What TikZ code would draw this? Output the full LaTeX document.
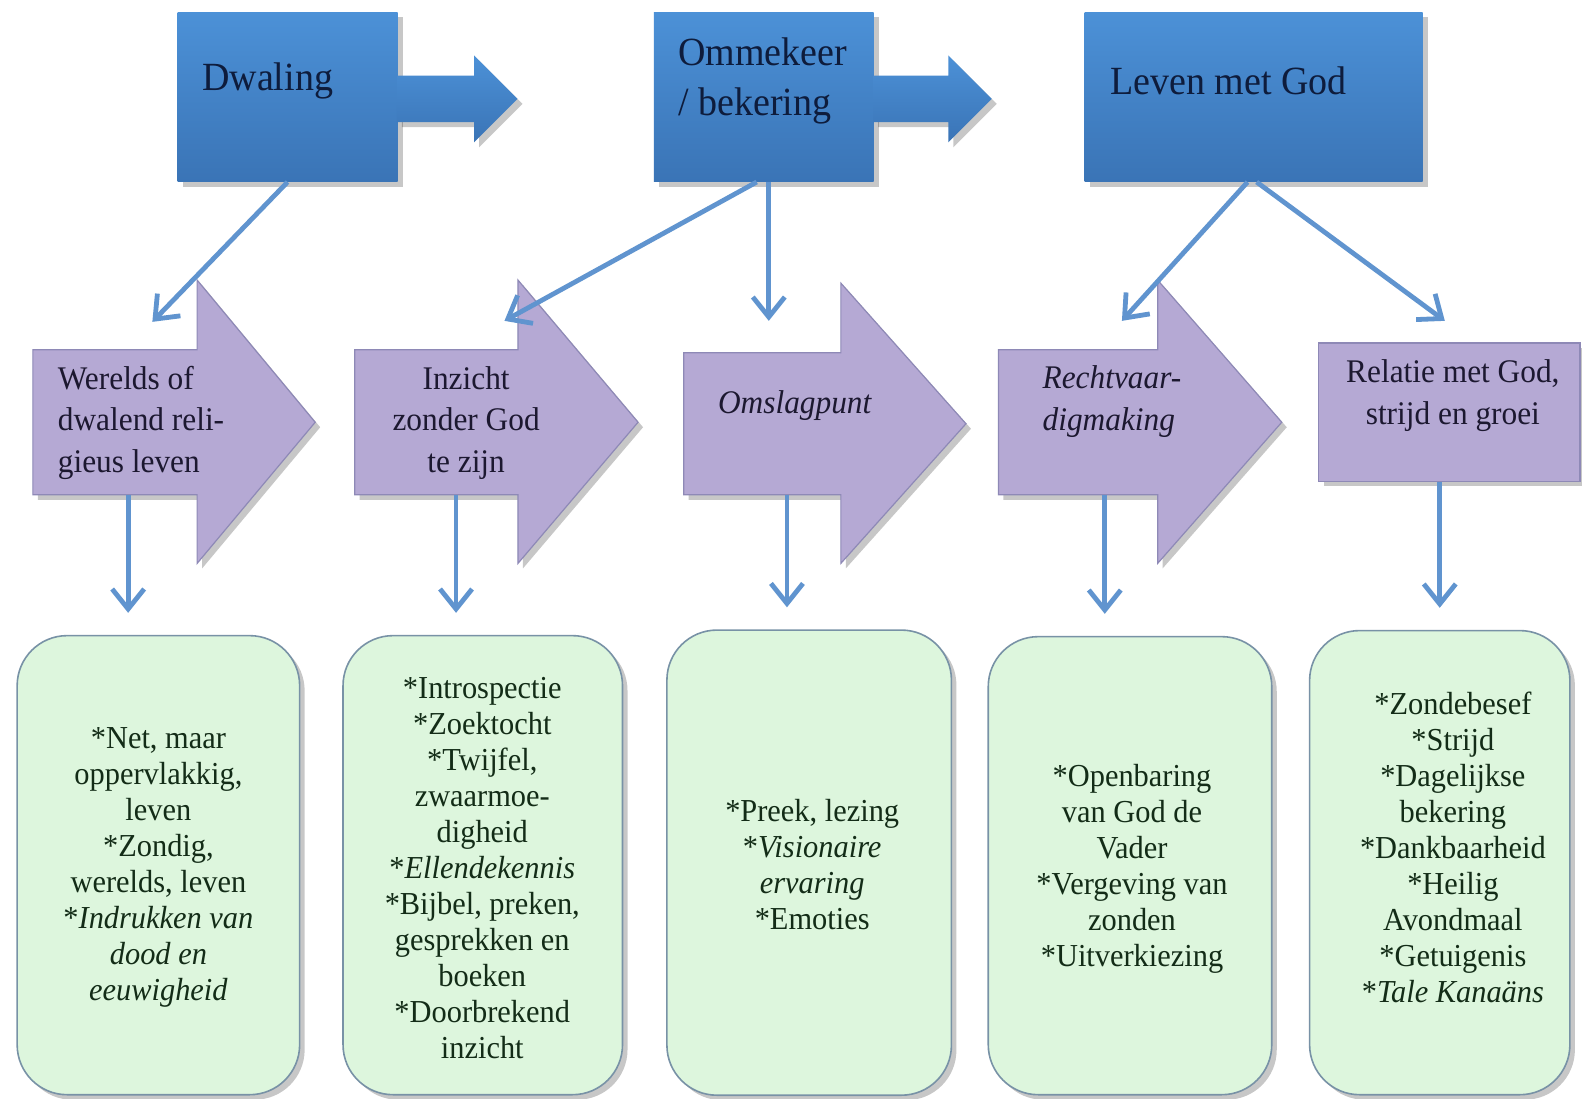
\documentclass[tikz,border=0pt]{standalone}
\usepackage{fontspec}
\setmainfont{Liberation Serif}[FakeStretch=0.95]
\usepackage{tikz}
\usetikzlibrary{positioning,arrows.meta,calc,shadows}

\newlength{\pxl}
\setlength{\pxl}{0.5045pt}

\definecolor{boxtop}{HTML}{4C91D7}
\definecolor{boxbottom}{HTML}{3A74B6}
\definecolor{topink}{HTML}{0E1C3C}
\definecolor{lavender}{HTML}{B5A9D4}
\definecolor{lavenderline}{HTML}{8E89B6}
\definecolor{lavink}{HTML}{1C1830}
\definecolor{mint}{HTML}{DDF6DD}
\definecolor{mintline}{HTML}{7892A6}
\definecolor{mintink}{HTML}{132C17}
\definecolor{linkblue}{HTML}{6094CF}

\tikzset{
  soft shadow/.style={drop shadow={shadow xshift=2.5pt, shadow yshift=-2.5pt, opacity=0.22, fill=black}},
  topbox/.style={rectangle, inner sep=0pt, minimum height=168\pxl, top color=boxtop, bottom color=boxbottom, soft shadow},
  toparrow/.style={top color=boxtop, bottom color=boxbottom, soft shadow},
  toptext/.style={inner sep=0pt, anchor=west, align=left, text=topink, font=\fontsize{20}{25.2}\selectfont},
  pbody/.style={rectangle, inner sep=0pt},
  parrow/.style={fill=lavender, draw=lavenderline, line width=0.6pt, soft shadow},
  pbox/.style={rectangle, inner sep=0pt, fill=lavender, draw=lavenderline, line width=0.6pt, soft shadow},
  ptext/.style={inner sep=0pt, text=lavink, font=\fontsize{16.5}{20.7}\selectfont},
  gbox/.style={rectangle, rounded corners=25pt, inner sep=0pt, fill=mint, draw=mintline, line width=0.8pt, soft shadow},
  gtext/.style={inner sep=0pt, align=center, text=mintink, font=\fontsize{16}{18}\selectfont},
  link/.style={->, draw=linkblue, line width=2.4pt},
}

\begin{document}
\begin{tikzpicture}[x=\pxl, y=-\pxl, >={Straight Barb[length=10pt,width=16pt]}]

\fill[white] (0,0) rectangle (1568,1089);
\useasboundingbox (0,0) rectangle (1568,1089);

% top row
\node[topbox, minimum width=218\pxl] (dwaling) at (285,96) {};
\node[topbox, minimum width=218\pxl] (ommekeer) at (757,96) {};
\node[topbox, minimum width=335\pxl] (leven) at (1242.5,96) {};

\foreach \a/\b in {dwaling/470, ommekeer/940}
  \path[toparrow] ($(\a.east)+(-1,-21)$) -- (\b,75) -- (\b,55) -- (\b+43,98)
    -- (\b,141) -- (\b,121) -- ($(\a.east)+(-1,25)$) -- cycle;

\node[toptext] (dwaling-t) at (200,80) {Dwaling};
\node[toptext] (ommekeer-t) at (672,80) {Ommekeer\\/ bekering};
\node[toptext] (leven-t) at (1100,80) {Leven met God};

% purple row
\node[pbody, minimum width=162\pxl, minimum height=143\pxl] (werelds) at (114,418.5) {};
\node[pbody, minimum width=161\pxl, minimum height=143\pxl] (inzicht) at (432.5,418.5) {};
\node[pbody, minimum width=155\pxl, minimum height=140\pxl] (omslag) at (755.5,420) {};
\node[pbody, minimum width=157\pxl, minimum height=143\pxl] (recht) at (1068.5,418.5) {};

\foreach \n/\h in {werelds/117, inzicht/119, omslag/124, recht/123}
  \path[parrow] (\n.south west) -- (\n.north west) -- (\n.north east)
    -- ++(0,-69) -- ($(\n.east)+(\h,0)$) -- ($(\n.south east)+(0,68)$)
    -- (\n.south east) -- cycle;

\node[pbox, minimum width=259\pxl, minimum height=137\pxl] (relatie) at (1436.5,408.5) {};

\node[ptext, anchor=west, align=left] (werelds-t) at (57,419) {Werelds of\\dwalend reli-\\gieus leven};
\node[ptext, align=center] (inzicht-t) at (462,419) {Inzicht\\zonder God\\te zijn};
\node[ptext] (omslag-t) at (788,402) {\textit{Omslagpunt}};
\node[ptext, anchor=west, align=left] (recht-t) at (1033,398) {\textit{Rechtvaar-}\\\textit{digmaking}};
\node[ptext, align=center] (relatie-t) at (1440,392) {Relatie met God,\\strijd en groei};

% connectors from the top row
\coordinate (in-werelds) at (151,319);
\coordinate (in-inzicht) at (500,318);
\coordinate (in-omslag) at (762,318);
\coordinate (in-recht) at (1112,318);
\coordinate (in-relatie) at (1432,318);

\draw[link] (dwaling.south) -- (in-werelds);
\draw[link] ($(ommekeer.south)+(-7,0)$) -- (in-inzicht);
\draw[link] ($(ommekeer.south)+(5,0)$) -- (in-omslag);
\draw[link] ($(leven.south)+(-6,0)$) -- (in-recht);
\draw[link] ($(leven.south)+(3,0)$) -- (in-relatie);

% green row
\node[gbox, minimum width=280\pxl, minimum height=455\pxl] (net) at (157,857.5) {};
\node[gbox, minimum width=277\pxl, minimum height=455\pxl] (intro) at (478.5,857.5) {};
\node[gbox, minimum width=282\pxl, minimum height=461\pxl] (preek) at (802,855) {};
\node[gbox, minimum width=281\pxl, minimum height=454\pxl] (open) at (1120,858) {};
\node[gbox, minimum width=258\pxl, minimum height=460\pxl] (zonde) at (1427,855) {};

\foreach \p/\g/\dx in {werelds/net/13, inzicht/intro/19.5, omslag/preek/24.5, recht/open/26.5, relatie/zonde/-9.5}
  \draw[link, shorten >=11pt] ($(\p.south)+(\dx,0)$) coordinate (drop) -- (drop |- \g.north);

\node[gtext] (net-t) at (157,860) {{*}Net, maar\\oppervlakkig,\\leven\\{*}Zondig,\\werelds, leven\\{*}\textit{Indrukken van}\\\textit{dood en}\\\textit{eeuwigheid}};
\node[gtext] (intro-t) at (478,860) {{*}Introspectie\\{*}Zoektocht\\{*}Twijfel,\\zwaarmoe-\\digheid\\{*}\textit{Ellendekennis}\\{*}Bijbel, preken,\\gesprekken en\\boeken\\{*}Doorbrekend\\inzicht};
\node[gtext] (preek-t) at (805,857) {{*}Preek, lezing\\{*}\textit{Visionaire}\\\textit{ervaring}\\{*}Emoties};
\node[gtext] (open-t) at (1122,861) {{*}Openbaring\\van God de\\Vader\\{*}Vergeving van\\zonden\\{*}Uitverkiezing};
\node[gtext] (zonde-t) at (1440,840) {{*}Zondebesef\\{*}Strijd\\{*}Dagelijkse\\bekering\\{*}Dankbaarheid\\{*}Heilig\\Avondmaal\\{*}Getuigenis\\{*}\textit{Tale Kanaäns}};

\end{tikzpicture}
\end{document}
